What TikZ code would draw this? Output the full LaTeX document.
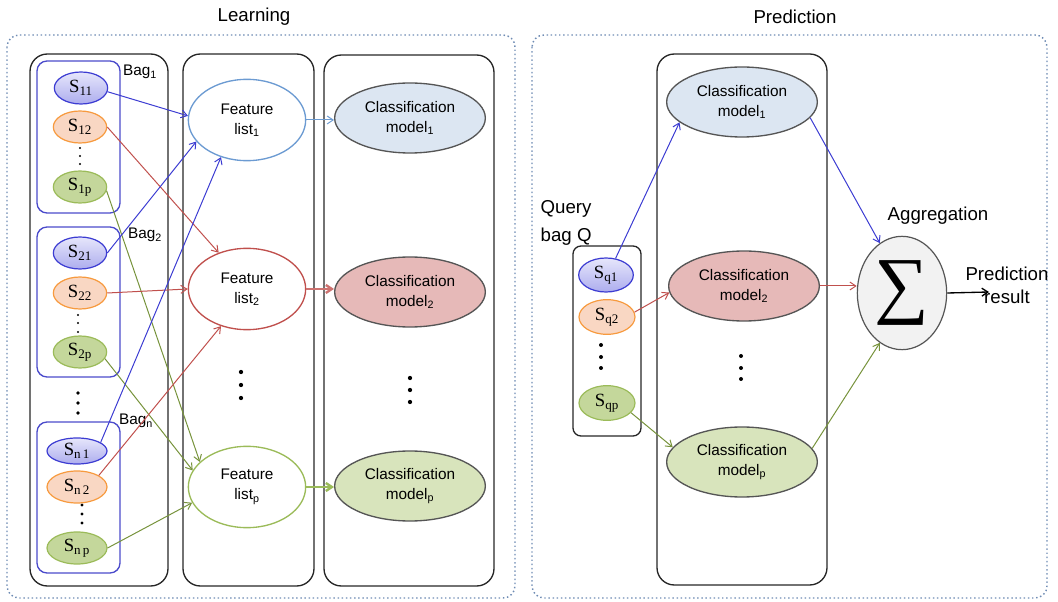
\documentclass[tikz,border=0pt]{standalone}
\usepackage{fontspec}
\setmainfont{Liberation Sans}
\newfontfamily\instfont{Liberation Serif}
\usepackage{graphicx}
\usetikzlibrary{shapes.geometric,arrows.meta}

\definecolor{framecol}{HTML}{6F8CB4}
\definecolor{bagcol}{HTML}{4B4BCB}
\definecolor{blueline}{HTML}{3C3CD2}
\definecolor{bluefillA}{HTML}{E6E6FB}
\definecolor{bluefillB}{HTML}{ADADEE}
\definecolor{orangeline}{HTML}{F79A3E}
\definecolor{orangefill}{HTML}{F9D7C3}
\definecolor{greenline}{HTML}{9BBB59}
\definecolor{greenfill}{HTML}{C4D79B}
\definecolor{redline}{HTML}{C0504D}
\definecolor{greenarr}{HTML}{77933C}
\definecolor{flblue}{HTML}{6C9BD2}
\definecolor{cmblue}{HTML}{DCE6F2}
\definecolor{cmred}{HTML}{E6B9B8}
\definecolor{cmgreen}{HTML}{D8E4BC}
\definecolor{cmline}{HTML}{555555}
\definecolor{aggfill}{HTML}{F2F2F2}

\newcommand{\sinst}[1]{S\textsubscript{#1}}

\tikzset{
  bigtext/.style={font=\fontsize{14}{17}\selectfont},
  dotframe/.style={draw=framecol, dotted, line width=1.1pt, rounded corners=9pt},
  colbox/.style={draw=black!85, line width=1pt, rounded corners=13pt},
  bagbox/.style={draw=bagcol, line width=1pt, rounded corners=7.5pt},
  baglabel/.style={font=\fontsize{11.5}{13}\selectfont, inner sep=0pt},
  inst/.style={ellipse, inner sep=0pt, line width=0.9pt, minimum width=40pt, minimum height=24pt,
    font=\instfont\fontsize{14}{16}\selectfont},
  instblue/.style={inst, draw=blueline, top color=bluefillA, bottom color=bluefillB},
  instorange/.style={inst, draw=orangeline, fill=orangefill},
  instgreen/.style={inst, draw=greenline, fill=greenfill},
  featlist/.style={ellipse, inner sep=0pt, line width=1pt, fill=white, minimum width=88pt, minimum height=61pt,
    align=center, font=\fontsize{11.5}{15}\selectfont},
  clmodel/.style={ellipse, inner sep=0pt, line width=1pt, draw=cmline, minimum width=113pt, minimum height=52.5pt,
    align=center, font=\fontsize{11.5}{15}\selectfont},
  arr/.style={-{Straight Barb[length=4.5pt,width=6pt]}, line width=0.75pt},
  arrblue/.style={arr, draw=blueline},
  arrred/.style={arr, draw=redline},
  arrgreen/.style={arr, draw=greenarr},
}

\begin{document}
\begin{tikzpicture}[x=0.75pt,y=0.75pt,yscale=-1,xscale=1]
\useasboundingbox (0,0) rectangle (1058,602);

% Titles
\node[bigtext] (learn) at (254,17) {Learning};
\node[bigtext] (pred) at (795,17) {Prediction};

%Dotted frames
\draw[dotframe] (7,35) rectangle (515,598);
\draw[dotframe] (532,35) rectangle (1047,598);

%Columns
\draw[colbox] (30,54) rectangle (168,586);
\draw[colbox] (183,54) rectangle (314,586);
\draw[colbox] (324,55) rectangle (494,586);
\draw[colbox] (657,54) rectangle (827,585);
\draw[line width=1pt, draw=black!85, rounded corners=6pt] (573,246) rectangle (641,436);

%Bags
\draw[bagbox] (37,61) rectangle (120,213);
\draw[bagbox] (37,227) rectangle (120,377);
\draw[bagbox] (37,422) rectangle (120,573);
\node[baglabel] (bag1) at (140,72) {Bag\textsubscript{1}};
\node[baglabel] (bag2) at (145,235) {Bag\textsubscript{2}};
\node[baglabel] (bagn) at (136,421) {Bag\textsubscript{n}};

%Dots
\foreach \yy in {148,156,164} \fill (80,\yy) circle (0.8pt);
\foreach \yy in {315,323,332} \fill (78,\yy) circle (0.8pt);
\foreach \yy in {393,403,413} \fill (78,\yy) circle (1.4pt);
\foreach \yy in {505,514,523} \fill (82,\yy) circle (1.3pt);
\foreach \yy in {372,385,398} \fill (241,\yy) circle (1.6pt);
\foreach \yy in {378,390,402} \fill (410,\yy) circle (1.6pt);
\foreach \yy in {345,357,368} \fill (601,\yy) circle (1.5pt);
\foreach \yy in {356,368,379} \fill (741,\yy) circle (1.5pt);

% Feature lists and models
\node[featlist, draw=flblue] (fl1) at (247,120) {Feature\\list\textsubscript{1}};
\node[featlist, draw=redline] (fl2) at (247,289) {Feature\\list\textsubscript{2}};
\node[featlist, draw=greenline] (flp) at (247,487) {Feature\\list\textsubscript{p}};
\node[clmodel, fill=cmblue] (cm1) at (410,118) {Classification\\model\textsubscript{1}};
\node[clmodel, fill=cmred] (cm2) at (410,292) {Classification\\model\textsubscript{2}};
\node[clmodel, fill=cmgreen] (cmp) at (410,486) {Classification\\model\textsubscript{p}};

% Instances
\node[instblue] (s11) at (81,88) {\sinst{11}};
\node[instorange] (s12) at (80,127) {\sinst{12}};
\node[instgreen] (s1p) at (80,187) {\sinst{1p}};
\node[instblue] (s21) at (80,253) {\sinst{21}};
\node[instorange] (s22) at (80,293) {\sinst{22}};
\node[instgreen] (s2p) at (80,352) {\sinst{2p}};
\node[instblue, minimum width=45pt, minimum height=19.5pt] (sn1) at (77,451) {\sinst{n\,1}};
\node[instorange, minimum width=45pt] (sn2) at (77,487) {\sinst{n\,2}};
\node[instgreen, minimum width=45pt] (snp) at (77,548) {\sinst{n\,p}};

%Arrows into feature lists
\draw[arrblue] (s11.-8) -- (fl1.176);
\draw[arrred] (s12.east) -- (fl2.128);
\draw[arrgreen] (s1p.-8) -- (flp.152);
\draw[arrblue] (s21.east) -- (fl1.203);
\draw[arrred] (s22.east) -- (fl2.180);
\draw[arrgreen] (s2p.-15) -- (flp.163);
\draw[arrblue] (sn1.20) -- (fl1.235);
\draw[arrred] (sn2.28) -- (fl2.235);
\draw[arrgreen] (snp.east) -- (flp.196);

%Arrows into models
\draw[arr, draw=flblue] (fl1.east) -- (fl1.east -| cm1.west);
\draw[arr, draw=redline!80, line width=1.8pt] (fl2.east) -- (fl2.east -| cm2.west);
\draw[arr, draw=greenline, line width=1.8pt] (flp.east) -- (flp.east -| cmp.west);

%Prediction side
\node[bigtext, align=left, anchor=west, font=\fontsize{14}{21.5}\selectfont] (query) at (536,223) {Query\\bag Q};
\node[instblue, minimum width=41pt, minimum height=25.5pt] (sq1) at (606,275) {\sinst{q1}};
\node[instorange, minimum width=42pt, minimum height=26pt] (sq2) at (607,317) {\sinst{q2}};
\node[instgreen, minimum width=42pt, minimum height=26pt] (sqp) at (607,403) {\sinst{qp}};
\node[clmodel, fill=cmblue] (cmr1) at (742,102) {Classification\\model\textsubscript{1}};
\node[clmodel, fill=cmred] (cmr2) at (744,286) {Classification\\model\textsubscript{2}};
\node[clmodel, fill=cmgreen] (cmrp) at (742,462) {Classification\\model\textsubscript{p}};
\node[ellipse, draw=cmline, line width=0.9pt, fill=aggfill, minimum width=67pt, minimum height=85pt, inner sep=0pt] (agg) at (902,293) {\scalebox{1.15}[1.12]{\instfont\fontsize{50}{50}\selectfont ∑}};
\node[bigtext] (agglabel) at (938,216) {Aggregation};
\node[bigtext, align=center] (result) at (1007,285) {Prediction\\result};
\coordinate (resend) at (989,292);

\draw[arrblue] (sq1.60) -- (cmr1.198);
\draw[arrred] (sq2.10) -- (cmr2.185);
\draw[arrgreen] (sqp.-22) -- (cmrp.168);
\draw[arrblue] (cmr1.-13) -- (agg.114);
\draw[arrred] (cmr2.east) -- (cmr2.east -| agg.west);
\draw[arrgreen] (cmrp.11) -- (agg.246);
\draw[arr, line width=1pt] (agg.east) -- (resend);

\end{tikzpicture}
\end{document}
